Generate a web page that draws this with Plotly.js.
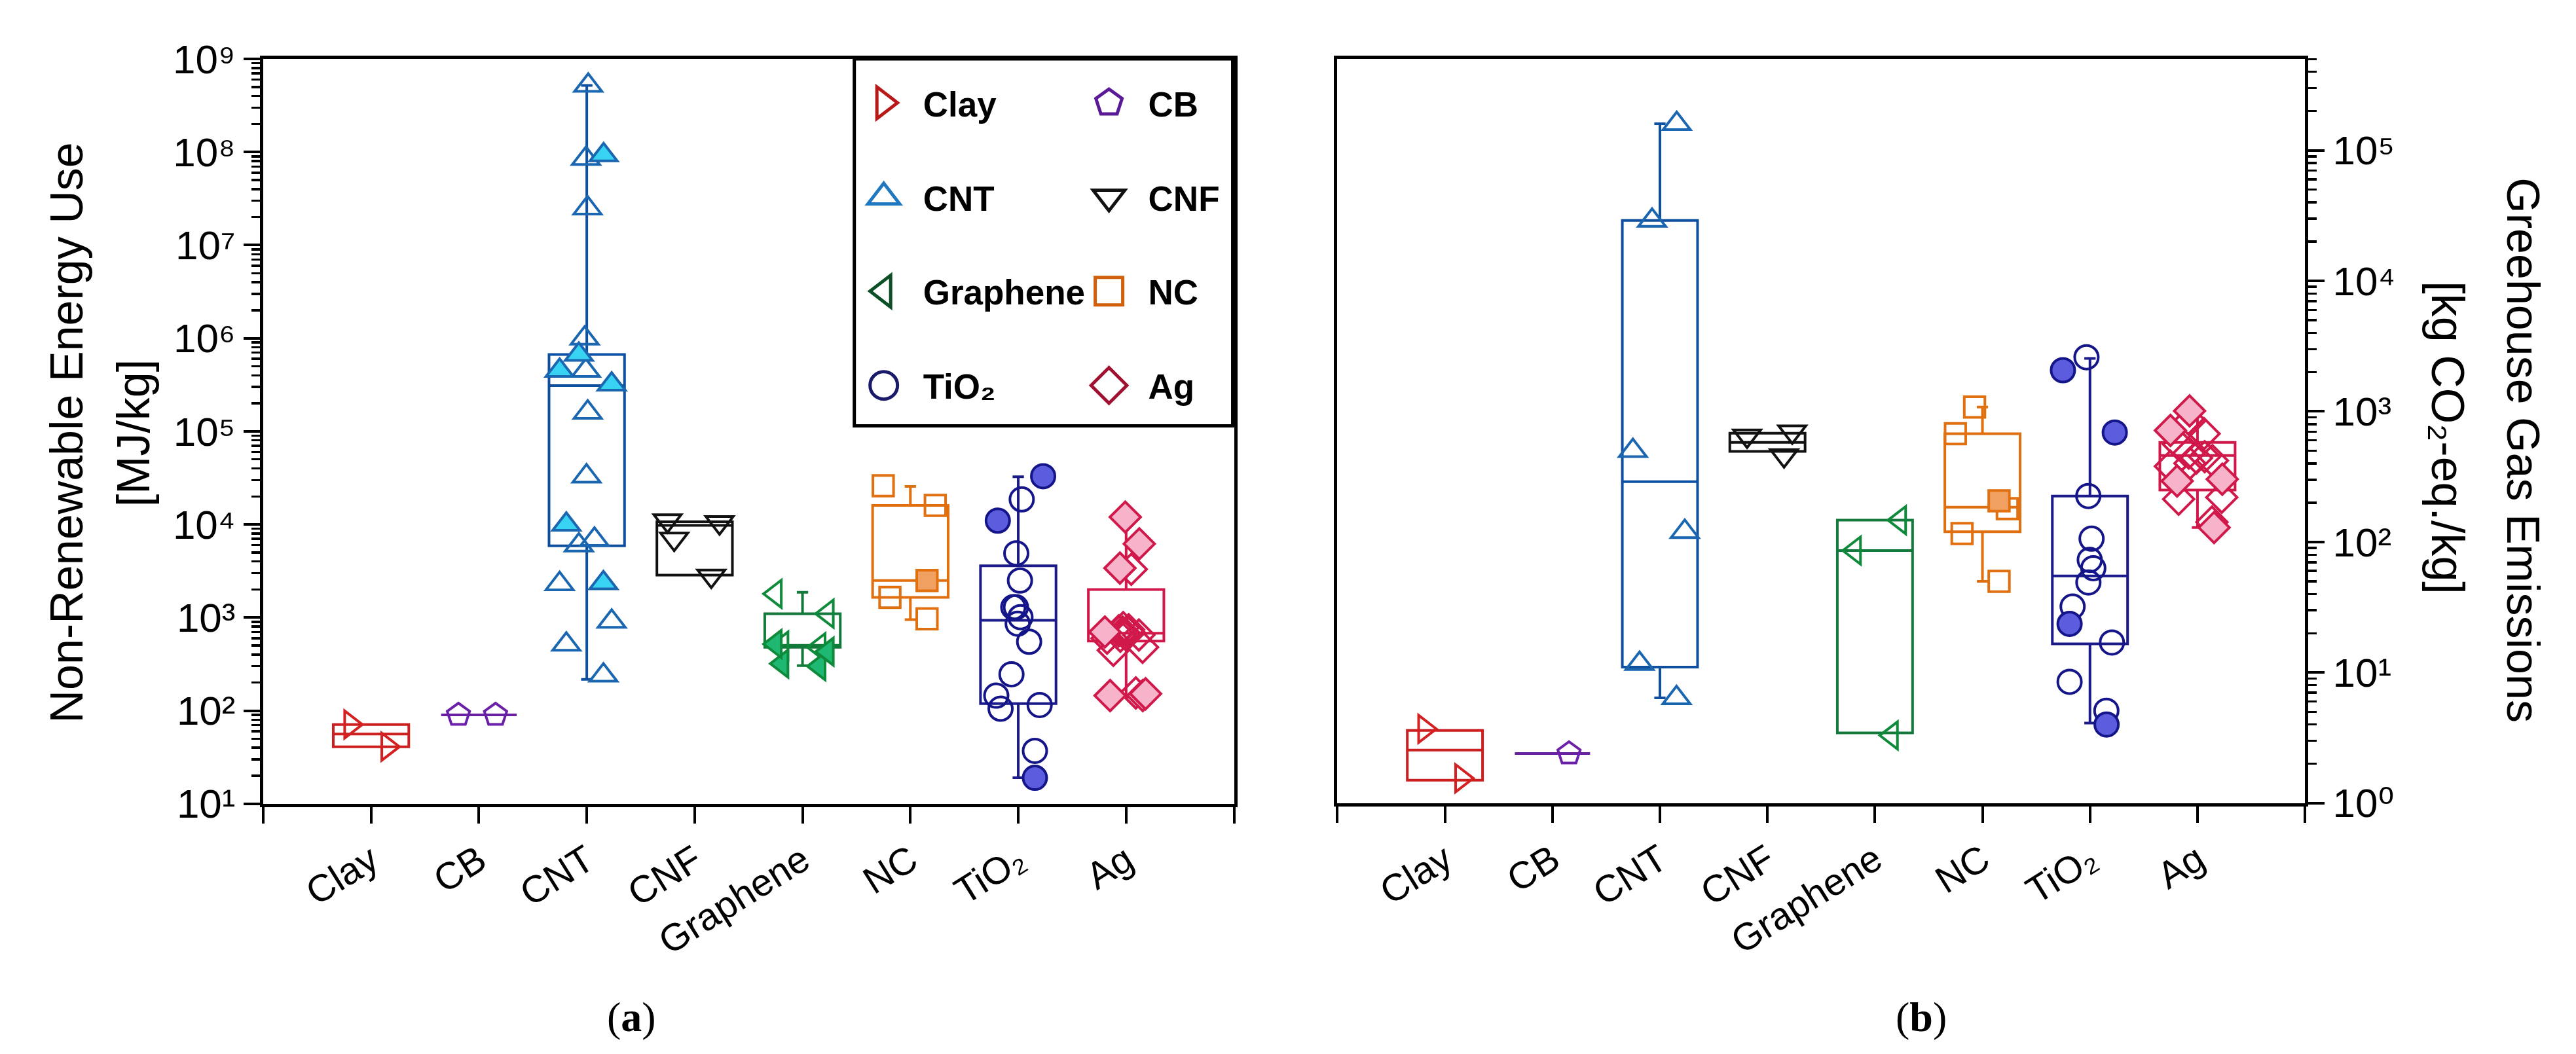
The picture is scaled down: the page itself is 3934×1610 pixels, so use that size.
<!DOCTYPE html>
<html>
<head>
<meta charset="utf-8">
<script src="https://cdn.plot.ly/plotly-3.0.1.min.js"></script>
<style>
html,body{margin:0;padding:0;background:#fff;width:3934px;height:1610px;}
#chart{position:absolute;left:0;top:0;width:1311.333px;height:536.667px;transform:scale(3);transform-origin:0 0;}
</style>
</head>
<body>
<div id="chart"></div>
<script>
// ---------------- data ----------------
const categories = ['Clay', 'CB', 'CNT', 'CNF', 'Graphene', 'NC', 'TiO₂', 'Ag'];
const symbols = ['triangle-right', 'pentagon', 'triangle-up', 'triangle-down', 'triangle-left', 'square', 'circle', 'diamond'];

// (a) Non-renewable energy use [MJ/kg] : box statistics
const nreQ1  = [41, 90, 5900, 2860, 480, 1650, 119, 560];
const nreMed = [56, 90, 3.1e5, 9800, 480, 2500, 935, 680];
const nreQ3  = [71, 90, 6.7e5, 10700, 1100, 1.6e4, 3600, 2000];
const nreLo  = [41, 90, 217, 2860, 305, 950, 19, 140];
const nreHi  = [71, 90, 5.2e8, 10700, 1870, 2.56e4, 3.25e4, 1.17e4];
// (a) individual studies (open / filled markers)
const nreOpen = [
  [71, 41],
  [90, 90],
  [5.2e8, 8.5e7, 2.5e7, 1.0e6, 4.5e5, 1.6e5, 3.3e4, 6900, 6000, 2300, 910, 515, 240],
  [11000, 10500, 7000, 2800],
  [1800, 1100, 500, 480],
  [2.6e4, 1.6e4, 1650, 970],
  [1.86e4, 4900, 2500, 1290, 1290, 1010, 860, 550, 246, 145, 115, 105, 37],
  [3300, 780, 740, 720, 700, 690, 670, 650, 630, 600, 480, 445, 155]
];
const nreFilled = [
  [], [],
  [9.3e7, 6.7e5, 4.5e5, 3.2e5, 1.0e4, 2350],
  [],
  [520, 430, 320, 300],
  [2500],
  [3.3e4, 1.1e4, 19],
  [1.2e4, 6200, 3400, 700, 152, 145, 145]
];

// (b) Greenhouse gas emissions [kg CO2-eq./kg] : box statistics
const ghgQ1  = [1.5, 2.4, 11, 494, 3.45, 120, 16.6, 250];
const ghgMed = [2.55, 2.4, 290, 580, 86, 185, 55, 460];
const ghgQ3  = [3.6, 2.4, 2.9e4, 682, 147, 675, 225, 580];
const ghgLo  = [1.5, 2.4, 6.4, 494, 3.45, 50, 4.1, 129];
const ghgHi  = [3.6, 2.4, 1.6e5, 682, 147, 1080, 2550, 1050];
const ghgOpen = [
  [3.7, 1.55],
  [2.4],
  [1.6e5, 2.9e4, 500, 120, 11.7, 6.4],
  [700, 650, 460],
  [147, 86, 3.3],
  [1080, 675, 180, 116, 50],
  [2600, 225, 106, 73, 63, 49, 32, 17, 8.5, 5.1],
  [850, 675, 560, 480, 450, 440, 420, 400, 380, 220, 213, 142]
];
const ghgFilled = [
  [], [], [], [], [],
  [207],
  [2070, 690, 23.6, 4.0],
  [1010, 715, 303, 293, 129]
];

// tick labels
const nreTickVals = [1e1, 1e2, 1e3, 1e4, 1e5, 1e6, 1e7, 1e8, 1e9];
const nreTickText = ['10¹', '10²', '10³', '10⁴', '10⁵', '10⁶', '10⁷', '10⁸', '10⁹'];
const ghgTickVals = [1e0, 1e1, 1e2, 1e3, 1e4, 1e5];
const ghgTickText = ['10⁰', '10¹', '10²', '10³', '10⁴', '10⁵'];

// ---------------- styles ----------------
const boxColors    = ['#cc1f1f', '#6a1fa0', '#0f4fa0', '#111111', '#127a3a', '#e06f10', '#1a1a8a', '#d0184a'];
const pointColors  = ['#d42020', '#6a20a8', '#1a66b0', '#111111', '#0f8a3a', '#e07010', '#15158a', '#d0184a'];
const fillColors   = ['#f08080', '#b080d0', '#38d2f2', '#888888', '#1fb873', '#f0a060', '#5c5cdf', '#f6b3c9'];
const legendColors = ['#b81818', '#5a1a98', '#1f78c0', '#111111', '#0b4f26', '#d0600c', '#1a1a6a', '#a01030'];

const W = 3934, H = 1610, S = 3;
const u = p => p / S;          // full-resolution px -> layout units
const fx = p => p / W;
const fy = p => 1 - p / H;
const FONT = 'Liberation Sans, Arial, DejaVu Sans, sans-serif';
const SERIF = 'Liberation Serif, Times New Roman, serif';

const traces = [];
function addPanel(xa, ya, q1, med, q3, lo, hi, openPts, filledPts) {
  categories.forEach((c, i) => {
    traces.push({
      type: 'box', xaxis: xa, yaxis: ya, x: [i + 1],
      q1: [q1[i]], median: [med[i]], q3: [q3[i]], lowerfence: [lo[i]], upperfence: [hi[i]],
      boxpoints: false, width: 0.7, whiskerwidth: 0.15,
      line: {color: boxColors[i], width: u(4)}, fillcolor: 'rgba(0,0,0,0)',
      showlegend: false, hoverinfo: 'skip'
    });
    [[openPts[i], false], [filledPts[i], true]].forEach(([vals, filled]) => {
      if (!vals.length) return;
      traces.push({
        type: 'box', xaxis: xa, yaxis: ya, y: vals, x0: i + 1,
        boxpoints: 'all', jitter: 0.85, pointpos: 0, width: 0.7,
        line: {width: 0, color: 'rgba(0,0,0,0)'}, fillcolor: 'rgba(0,0,0,0)',
        marker: {symbol: symbols[i], size: (symbols[i] === 'square' ? 10.5 : 12),
                 color: filled ? fillColors[i] : 'rgba(0,0,0,0)',
                 line: {color: pointColors[i], width: u(4)}},
        showlegend: false, hoverinfo: 'skip'
      });
    });
  });
}
addPanel('x', 'y', nreQ1, nreMed, nreQ3, nreLo, nreHi, nreOpen, nreFilled);
addPanel('x2', 'y2', ghgQ1, ghgMed, ghgQ3, ghgLo, ghgHi, ghgOpen, ghgFilled);

// legend entries (two columns)
categories.forEach((c, i) => {
  traces.push({
    type: 'scatter', mode: 'markers', x: [null], y: [null], xaxis: 'x', yaxis: 'y',
    name: c, legend: (i % 2 === 0) ? 'legend' : 'legend2', legendgroup: 'g' + i,
    marker: {symbol: symbols[i], size: 14, color: 'rgba(0,0,0,0)', line: {color: legendColors[i], width: u(5)}},
    showlegend: true, hoverinfo: 'skip'
  });
});

const catTicks = [1, 2, 3, 4, 5, 6, 7, 8];
const axLine = {showline: true, linecolor: '#000', linewidth: u(5), mirror: true,
  ticks: 'outside', ticklen: u(25), tickwidth: u(4), tickcolor: '#000',
  showgrid: false, zeroline: false};
const xAx = Object.assign({}, axLine, {range: [0, 9], tickmode: 'array', tickvals: catTicks, ticktext: categories,
  tickangle: -32, tickfont: {family: FONT, size: u(58), color: '#000'},
  minor: {tickmode: 'array', tickvals: [0, 9], ticks: 'outside', ticklen: u(25), tickwidth: u(4), tickcolor: '#000', showgrid: false}});
const minorTicks = {ticks: 'outside', ticklen: u(13), tickwidth: u(3.5), tickcolor: '#000', dtick: 'D1', showgrid: false};
const yAx = Object.assign({}, axLine, {type: 'log', tickmode: 'array', minor: minorTicks,
  tickfont: {family: FONT, size: u(62), color: '#000'}});

const legendBase = {bgcolor: 'rgba(0,0,0,0)', borderwidth: 0, xanchor: 'left', yanchor: 'top',
  font: {family: FONT, size: u(53), color: '#000', weight: 'bold'}, tracegroupgap: u(66), itemsizing: 'trace'};

const layout = {
  width: W / S, height: H / S, autosize: false,
  margin: {l: 0, r: 0, t: 0, b: 0},
  paper_bgcolor: '#fff', plot_bgcolor: '#fff',
  boxmode: 'overlay',
  xaxis: Object.assign({}, xAx, {domain: [fx(402), fx(1885)], anchor: 'y'}),
  yaxis: Object.assign({}, yAx, {domain: [fy(1227), fy(90)], anchor: 'x', range: [1, 9],
    tickvals: nreTickVals, ticktext: nreTickText}),
  xaxis2: Object.assign({}, xAx, {domain: [fx(2043), fx(3521)], anchor: 'y2'}),
  yaxis2: Object.assign({}, yAx, {domain: [fy(1226), fy(90)], anchor: 'x2', side: 'right', range: [0, 5.70],
    tickvals: ghgTickVals, ticktext: ghgTickText}),
  legend: Object.assign({}, legendBase, {x: fx(1290), y: fy(103)}),
  legend2: Object.assign({}, legendBase, {x: fx(1634), y: fy(103)}),
  shapes: [
    {type: 'rect', xref: 'paper', yref: 'paper', x0: fx(1305), x1: fx(1883), y0: fy(650), y1: fy(90),
     line: {color: '#000', width: u(5)}, layer: 'above'}
  ],
  annotations: [
    {text: 'Non-Renewable Energy Use', x: fx(102), y: fy(660), textangle: -90},
    {text: '[MJ/kg]', x: fx(204), y: fy(660), textangle: -90},
    {text: 'Greehouse Gas Emissions', x: fx(3853), y: fy(685), textangle: 90},
    {text: '[kg CO₂-eq./kg]', x: fx(3739), y: fy(666), textangle: 90}
  ].map(a => Object.assign({xref: 'paper', yref: 'paper', showarrow: false, xanchor: 'center', yanchor: 'middle',
     font: {family: FONT, size: u(70), color: '#000'}}, a)).concat([
    {text: '(<b>a</b>)', x: fx(965), y: fy(1552)},
    {text: '(<b>b</b>)', x: fx(2935), y: fy(1552)}
  ].map(a => Object.assign({xref: 'paper', yref: 'paper', showarrow: false, xanchor: 'center', yanchor: 'middle',
     font: {family: SERIF, size: u(64), color: '#000'}}, a)))
};

Plotly.newPlot('chart', traces, layout, {staticPlot: true, displayModeBar: false});
</script>
</body>
</html>
